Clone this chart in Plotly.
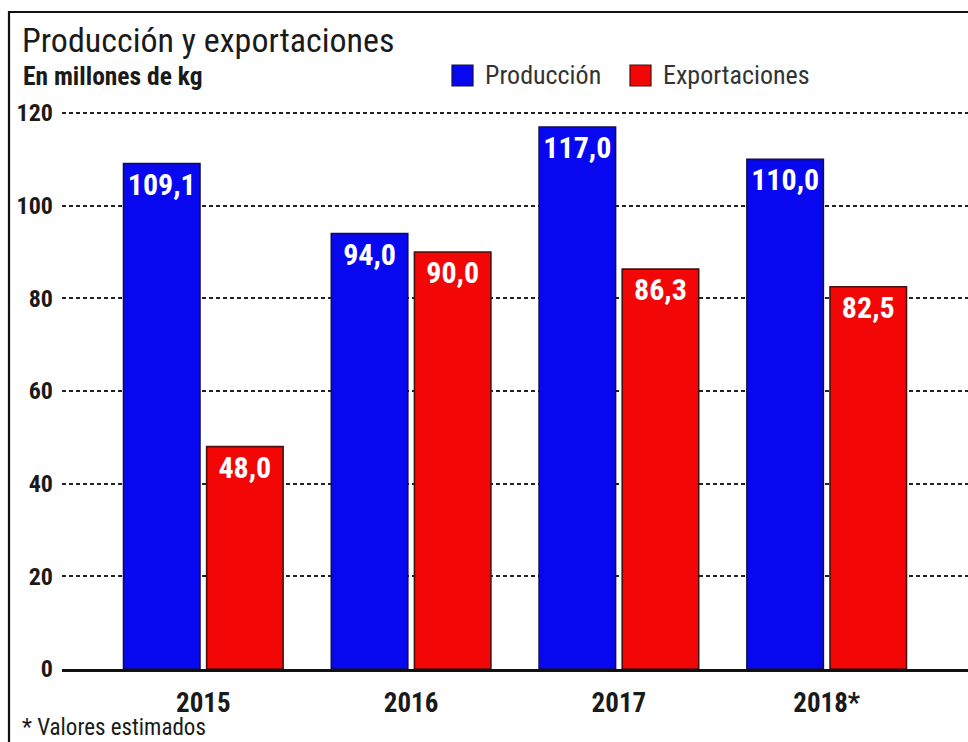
import plotly.graph_objects as go

# Datos (millones de kg)
years = ["2015", "2016", "2017", "2018*"]
produccion = [109.1, 94.0, 117.0, 110.0]
exportaciones = [48.0, 90.0, 86.3, 82.5]
y_ticks = [0, 20, 40, 60, 80, 100, 120]
series_names = ["Producción", "Exportaciones"]
series_colors = ["#0808f0", "#f20606"]

def fmt(v):
    return f"{v:.1f}".replace(".", ",")

FONT = "Roboto Condensed, Open Sans Condensed, sans-serif"
W, H = 968, 742
L, R, T, B = 62, 0, 100, 73
pw, ph = W - L - R, H - T - B

def px(x):  # pixel x -> paper
    return (x - L) / pw

def py(y):  # pixel y -> paper
    return (H - B - y) / ph

fig = go.Figure()
for name, vals, col, edge in zip(series_names, [produccion, exportaciones],
                                 series_colors, ["#10104a", "#4a1010"]):
    fig.add_trace(go.Bar(
        x=years, y=vals, name=name,
        marker=dict(color=col, line=dict(color=edge, width=1.6)),
        text=[fmt(v) for v in vals], textposition="inside",
        insidetextanchor="end", constraintext="none",
        textfont=dict(family=FONT, size=30, color="white", weight="bold"),
    ))

# Leyenda en la cabecera
legend_shapes, legend_notes = [], []
for name, col, edge, sx, tx in zip(series_names, series_colors, ["#10104a", "#4a1010"],
                                    [452, 630], [483, 661]):
    legend_shapes.append(dict(
        type="rect", xref="paper", yref="paper",
        x0=px(sx), x1=px(sx + 21), y0=py(86), y1=py(65),
        fillcolor=col, line=dict(color=edge, width=1.2),
    ))
    legend_notes.append(dict(
        text=name, xref="paper", yref="paper", x=px(tx), y=py(75),
        xanchor="left", yanchor="middle", showarrow=False,
        font=dict(family=FONT, size=26, color="#333"),
    ))

fig.update_layout(
    width=W, height=H,
    margin=dict(l=L, r=R, t=T, b=B),
    paper_bgcolor="white", plot_bgcolor="white",
    barmode="group", bargap=0.2, bargroupgap=0.08,
    font=dict(family=FONT, color="#1a1a1a"),
    showlegend=False,
    xaxis=dict(
        range=[-0.68, 3.68], showgrid=False, showline=True,
        linecolor="#111", linewidth=3, ticks="",
        tickfont=dict(family=FONT, size=27, color="#1a1a1a", weight="bold"),
        ticklabelstandoff=8,
    ),
    yaxis=dict(
        range=[0, (H - B - T) / 4.633], tickvals=y_ticks,
        showgrid=True, gridcolor="#222", gridwidth=1.5, griddash="4px,3px",
        zeroline=False, showline=False, ticks="",
        tickfont=dict(family=FONT, size=24, color="#1a1a1a", weight="bold"),
        ticklabelstandoff=8,
    ),
    shapes=[dict(
        type="rect", xref="paper", yref="paper",
        x0=px(9), x1=px(975), y0=py(760), y1=py(12),
        line=dict(color="#111", width=2.2), fillcolor="rgba(0,0,0,0)", layer="below",
    )] + legend_shapes,
    annotations=[
        dict(text="Producción y exportaciones", xref="paper", yref="paper",
             x=px(20), y=py(40), xanchor="left", yanchor="middle", showarrow=False,
             font=dict(family=FONT, size=34, color="#1a1a1a")),
        dict(text="En millones de kg", xref="paper", yref="paper",
             x=px(21), y=py(76), xanchor="left", yanchor="middle", showarrow=False,
             font=dict(family=FONT, size=25.5, color="#1a1a1a", weight="bold")),
        dict(text="* Valores estimados", xref="paper", yref="paper",
             x=px(20), y=py(727), xanchor="left", yanchor="middle", showarrow=False,
             font=dict(family=FONT, size=23, color="#1a1a1a")),
    ] + legend_notes,
)

fig.write_html("out.html")
